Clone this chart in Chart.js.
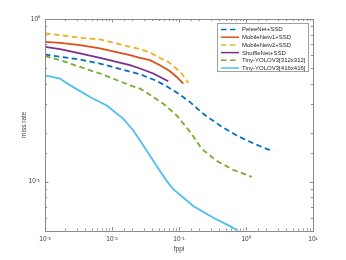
<!DOCTYPE html>
<html>
<head>
<meta charset="utf-8">
<script src="https://cdn.jsdelivr.net/npm/chart.js@4"></script>
<style>
  html, body { margin: 0; padding: 0; background: #fff; }
  #wrap { width: 346px; height: 260px; }
</style>
</head>
<body>
<div id="wrap"><canvas id="c" width="346" height="260"></canvas></div>
<script>
// ---------- data ----------
const seriesLabels = ['PeleeNet+SSD', 'MobileNetv1+SSD', 'MobileNetv2+SSD', 'ShuffleNet+SSD', 'Tiny-YOLOV3[312x312]', 'Tiny-YOLOV3[416x416]'];

const peleeX = [0.001, 0.00168, 0.00333, 0.00662, 0.0262, 0.0439, 0.0618, 0.0822, 0.1035, 0.146, 0.231, 0.409, 0.726, 1.36, 2.55];
const peleeY = [0.605, 0.585, 0.563, 0.532, 0.457, 0.420, 0.391, 0.364, 0.342, 0.308, 0.261, 0.221, 0.192, 0.170, 0.153];

const mnv1X = [0.001, 0.00168, 0.00333, 0.00662, 0.0186, 0.0262, 0.0369, 0.052, 0.0734, 0.0925, 0.116];
const mnv1Y = [0.724, 0.714, 0.691, 0.659, 0.599, 0.576, 0.558, 0.519, 0.477, 0.440, 0.400];

const mnv2X = [0.001, 0.00168, 0.00333, 0.00662, 0.0186, 0.0262, 0.0369, 0.052, 0.0692, 0.0871, 0.1096, 0.138];
const mnv2Y = [0.816, 0.796, 0.766, 0.749, 0.674, 0.652, 0.622, 0.576, 0.545, 0.503, 0.462, 0.404];

const shuffleX = [0.001, 0.00168, 0.00333, 0.00662, 0.0186, 0.0262, 0.0413, 0.0692];
const shuffleY = [0.674, 0.652, 0.614, 0.576, 0.520, 0.496, 0.462, 0.414];

const yolo312X = [0.001, 0.00168, 0.00333, 0.00662, 0.0186, 0.0262, 0.033, 0.0584, 0.0925, 0.123, 0.155, 0.218, 0.366, 0.646, 1.22];
const yolo312Y = [0.591, 0.558, 0.507, 0.462, 0.391, 0.373, 0.352, 0.301, 0.255, 0.221, 0.196, 0.159, 0.134, 0.118, 0.107];

const yolo416X = [0.001, 0.00168, 0.00199, 0.00264, 0.0047, 0.00834, 0.0148, 0.0208, 0.0262, 0.0369, 0.052, 0.0655, 0.0822, 0.163, 0.325, 0.577, 0.813];
const yolo416Y = [0.450, 0.430, 0.410, 0.381, 0.331, 0.294, 0.243, 0.206, 0.179, 0.144, 0.116, 0.101, 0.0897, 0.0708, 0.0599, 0.0532, 0.049];

const xTickValues = [0.001, 0.01, 0.1, 1, 10];
const xTickLabels = ['10\u207B\u00B3', '10\u207B\u00B2', '10\u207B\u00B9', '10\u2070', '10\u00B9'];
const yTickValues = [0.1, 1];
const yTickLabels = ['10\u207B\u00B9', '10\u2070'];
const xTitle = 'fppi';
const yTitle = 'miss rate';

// ---------- styles ----------
const colors = ['#0072BD', '#D95319', '#EDB120', '#7E2F8E', '#77AC30', '#4DBEEE'];
const dashed = [true, false, true, false, true, false];
const DASH = [5.5, 3.5];
const FONT = "'Liberation Sans', Arial, Helvetica, sans-serif";
const AXIS_COLOR = '#8a8a8a';
const TEXT_COLOR = '#3a3a3a';

const xs = [peleeX, mnv1X, mnv2X, shuffleX, yolo312X, yolo416X];
const ys = [peleeY, mnv1Y, mnv2Y, shuffleY, yolo312Y, yolo416Y];

const datasets = seriesLabels.map((lab, i) => ({
  label: lab,
  data: xs[i].map((x, k) => ({ x: x, y: ys[i][k] })),
  borderColor: colors[i],
  backgroundColor: colors[i],
  borderWidth: 1.8,
  borderDash: dashed[i] ? DASH : [],
  pointRadius: 0,
  showLine: true,
  tension: 0,
  fill: false
}));

function labelFor(value, vals, labs) {
  for (let i = 0; i < vals.length; i++) {
    if (Math.abs(Math.log10(value) - Math.log10(vals[i])) < 1e-6) return labs[i];
  }
  return '';
}

const boxTicksPlugin = {
  id: 'boxTicks',
  afterDatasetsDraw(chart) {
    const ctx = chart.ctx;
    const a = chart.chartArea;
    const xS = chart.scales.x, yS = chart.scales.y;
    ctx.save();
    ctx.strokeStyle = AXIS_COLOR;
    ctx.lineWidth = 1;
    const isMajor = v => Math.abs(Math.log10(v) - Math.round(Math.log10(v))) < 1e-6;
    ctx.beginPath();
    xS.ticks.forEach(t => {
      const px = Math.round(xS.getPixelForValue(t.value)) + 0.5;
      const len = isMajor(t.value) ? 3.5 : 2;
      ctx.moveTo(px, a.bottom); ctx.lineTo(px, a.bottom - len);
      ctx.moveTo(px, a.top); ctx.lineTo(px, a.top + len);
    });
    yS.ticks.forEach(t => {
      const py = Math.round(yS.getPixelForValue(t.value)) + 0.5;
      const len = isMajor(t.value) ? 3.5 : 2;
      ctx.moveTo(a.left, py); ctx.lineTo(a.left + len, py);
      ctx.moveTo(a.right, py); ctx.lineTo(a.right - len, py);
    });
    ctx.stroke();
    ctx.strokeRect(Math.round(a.left) + 0.5, Math.round(a.top) + 0.5, Math.round(a.right - a.left), Math.round(a.bottom - a.top));
    ctx.restore();
  }
};

const legendPlugin = {
  id: 'insideLegend',
  afterDraw(chart) {
    const ctx = chart.ctx;
    const a = chart.chartArea;
    const bx = a.right - 95.5, by = a.top + 4.5, bw = 91, bh = 48;
    ctx.save();
    ctx.fillStyle = '#ffffff';
    ctx.fillRect(bx, by, bw, bh);
    ctx.strokeStyle = '#a0a0a0';
    ctx.lineWidth = 1;
    ctx.strokeRect(bx, by, bw, bh);
    ctx.font = '6px ' + FONT;
    ctx.textBaseline = 'middle';
    ctx.textAlign = 'left';
    chart.data.datasets.forEach((ds, i) => {
      const yy = by + 6 + i * 7.7;
      ctx.beginPath();
      ctx.setLineDash(ds.borderDash || []);
      ctx.strokeStyle = ds.borderColor;
      ctx.lineWidth = 1.5;
      ctx.moveTo(bx + 3.5, yy);
      ctx.lineTo(bx + 21.5, yy);
      ctx.stroke();
      ctx.setLineDash([]);
      ctx.fillStyle = '#262626';
      ctx.fillText(ds.label, bx + 24.5, yy + 0.3);
    });
    ctx.restore();
  }
};

new Chart(document.getElementById('c'), {
  type: 'scatter',
  data: { datasets: datasets },
  plugins: [boxTicksPlugin, legendPlugin],
  options: {
    responsive: false,
    animation: false,
    devicePixelRatio: 1,
    layout: { padding: { top: 19, right: 33, left: 0, bottom: 0 } },
    plugins: { legend: { display: false }, tooltip: { enabled: false } },
    scales: {
      x: {
        type: 'logarithmic',
        min: 0.001, max: 10,
        position: 'bottom',
        grid: { display: false, drawTicks: false },
        border: { display: false },
        ticks: {
          autoSkip: false, maxRotation: 0, minRotation: 0, padding: 5,
          color: TEXT_COLOR,
          font: { family: FONT, size: 6.5 },
          callback: v => labelFor(v, xTickValues, xTickLabels)
        },
        title: {
          display: true, text: xTitle, color: TEXT_COLOR,
          font: { family: FONT, size: 6.5 },
          padding: { top: 0, bottom: 7 }
        },
        afterFit: s => { s.height = 29.5; }
      },
      y: {
        type: 'logarithmic',
        min: 0.05, max: 1,
        position: 'left',
        grid: { display: false, drawTicks: false },
        border: { display: false },
        ticks: {
          autoSkip: false, padding: 5,
          color: TEXT_COLOR,
          font: { family: FONT, size: 6.5 },
          callback: v => labelFor(v, yTickValues, yTickLabels)
        },
        title: {
          display: true, text: yTitle, color: TEXT_COLOR,
          font: { family: FONT, size: 6.5 },
          padding: { top: 20, bottom: 0 }
        },
        afterFit: s => { s.width = 45; }
      }
    }
  }
});
</script>
</body>
</html>
